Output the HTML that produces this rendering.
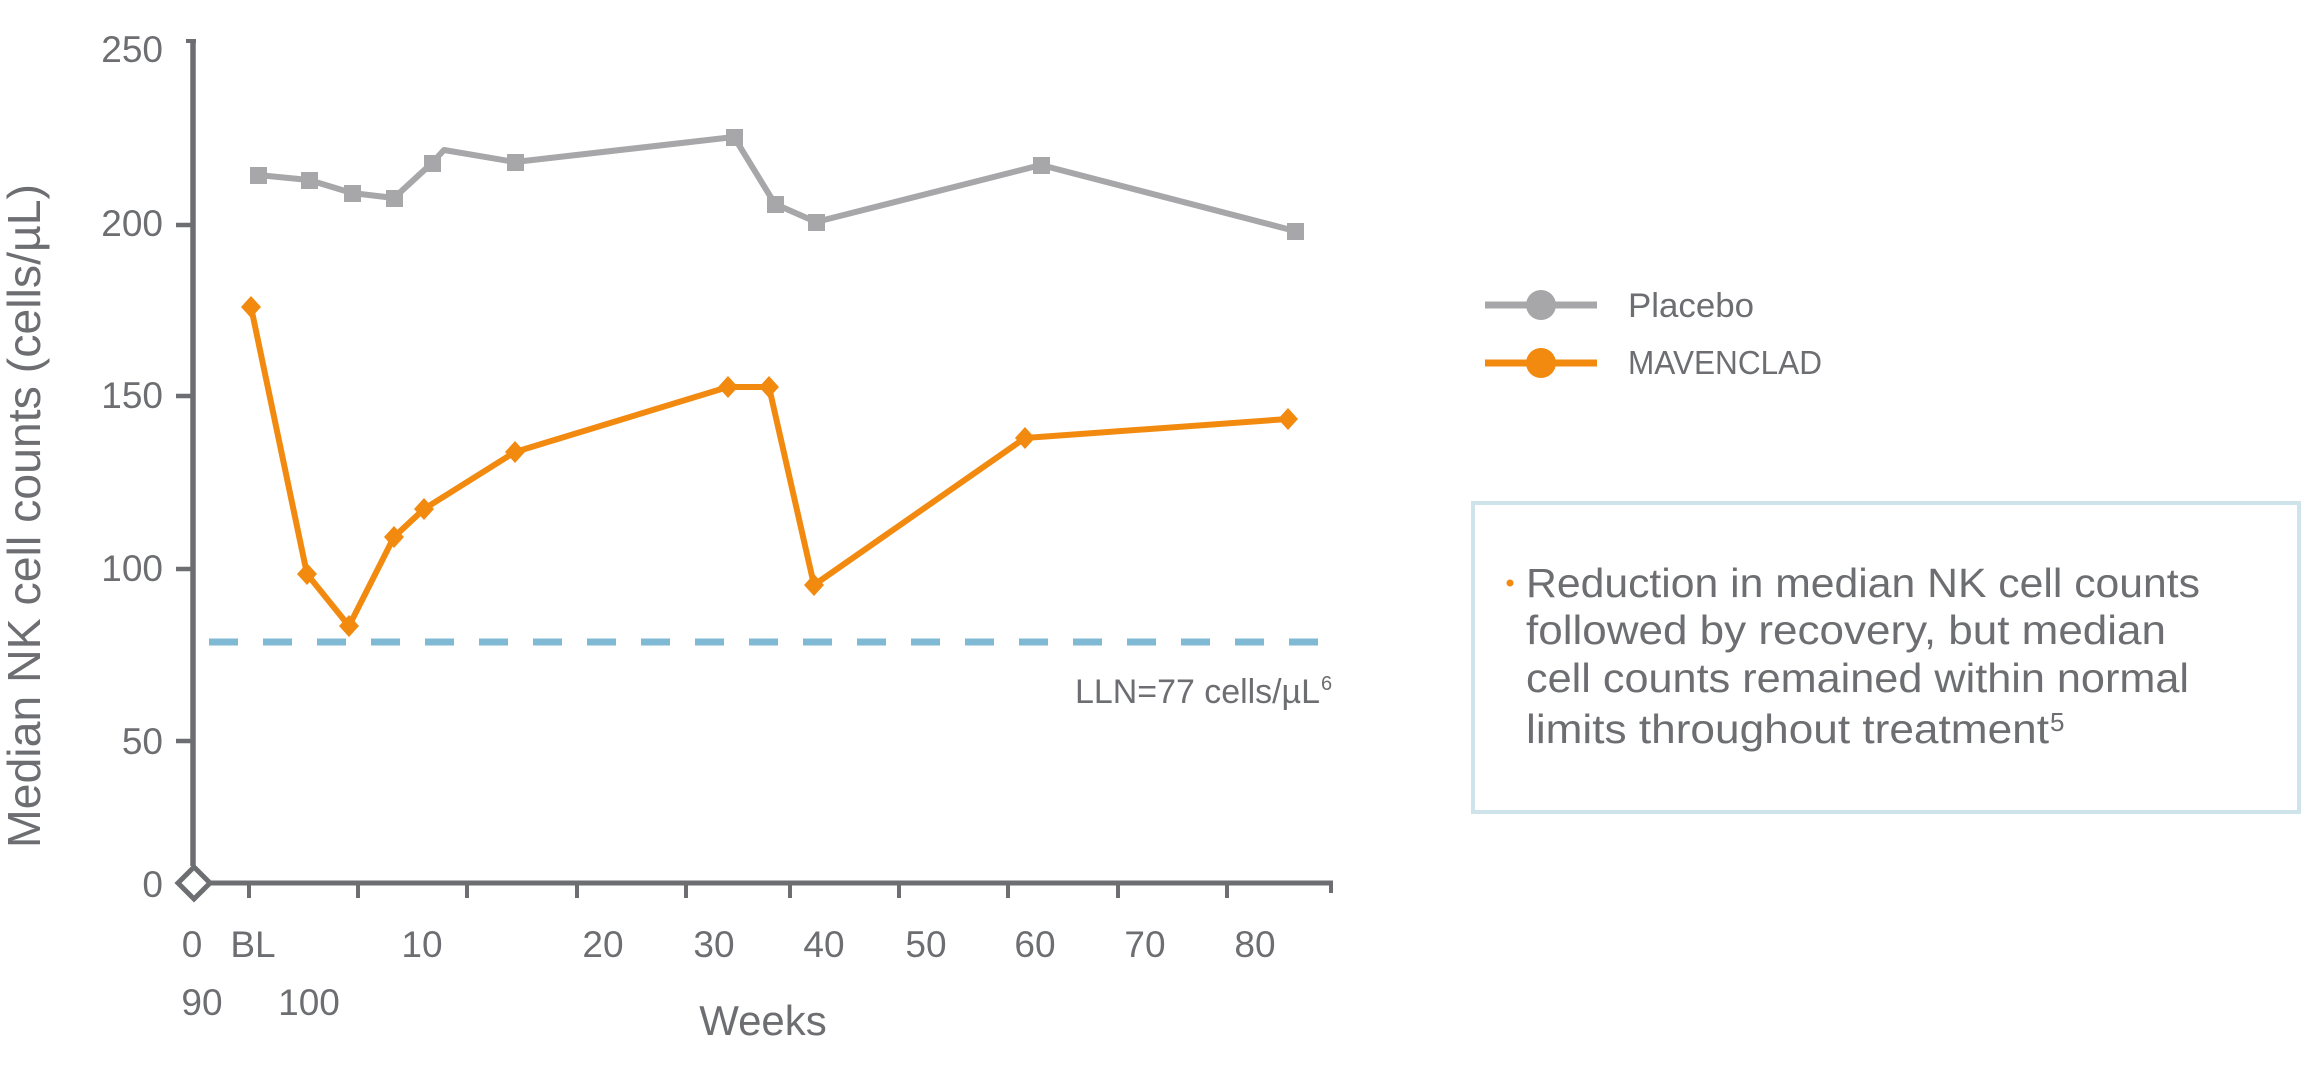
<!DOCTYPE html>
<html><head><meta charset="utf-8"><style>
html,body{margin:0;padding:0;background:#fff;}
svg{display:block;}
text{font-family:"Liberation Sans",sans-serif;fill:#6d6e71;}
</style></head><body>
<svg width="2304" height="1065" viewBox="0 0 2304 1065" xmlns="http://www.w3.org/2000/svg">
<!-- Y axis title -->
<text transform="translate(40,516) rotate(-90)" text-anchor="middle" font-size="46" textLength="664" lengthAdjust="spacingAndGlyphs">Median NK cell counts (cells/µL)</text>

<!-- Y tick labels -->
<g font-size="37" text-anchor="end">
<text x="163" y="62">250</text>
<text x="163" y="236">200</text>
<text x="163" y="408">150</text>
<text x="163" y="581">100</text>
<text x="163" y="754">50</text>
<text x="163" y="897">0</text>
</g>

<!-- axes -->
<g stroke="#6d6e71" fill="none" stroke-linecap="butt">
<line x1="193" y1="39" x2="193" y2="866" stroke-width="5.5"/>
<line x1="186" y1="41" x2="196" y2="41" stroke-width="4"/>
<line x1="176" y1="225" x2="193" y2="225" stroke-width="4.5"/>
<line x1="176" y1="396" x2="193" y2="396" stroke-width="4.5"/>
<line x1="176" y1="569" x2="193" y2="569" stroke-width="4.5"/>
<line x1="176" y1="741" x2="193" y2="741" stroke-width="4.5"/>
<line x1="211" y1="883" x2="1333" y2="883" stroke-width="5"/>
<line x1="1331" y1="881" x2="1331" y2="893" stroke-width="4"/>
<polygon points="194,867 210,883 194,899 178,883" stroke-width="5" fill="#fff"/>
<g stroke-width="4">
<line x1="249" y1="883" x2="249" y2="898"/>
<line x1="358" y1="883" x2="358" y2="898"/>
<line x1="467" y1="883" x2="467" y2="898"/>
<line x1="577" y1="883" x2="577" y2="898"/>
<line x1="686" y1="883" x2="686" y2="898"/>
<line x1="790" y1="883" x2="790" y2="898"/>
<line x1="899" y1="883" x2="899" y2="898"/>
<line x1="1008" y1="883" x2="1008" y2="898"/>
<line x1="1118" y1="883" x2="1118" y2="898"/>
<line x1="1227" y1="883" x2="1227" y2="898"/>
</g>
</g>

<!-- X labels -->
<g font-size="37" text-anchor="middle">
<text x="192" y="957">0</text>
<text x="253" y="957">BL</text>
<text x="422" y="957">10</text>
<text x="603" y="957">20</text>
<text x="714" y="957">30</text>
<text x="824" y="957">40</text>
<text x="926" y="957">50</text>
<text x="1035" y="957">60</text>
<text x="1145" y="957">70</text>
<text x="1255" y="957">80</text>
<text x="202" y="1015">90</text>
<text x="309" y="1015">100</text>
</g>
<text x="763" y="1035" font-size="42" text-anchor="middle">Weeks</text>

<!-- LLN dashed line -->
<line x1="209" y1="642" x2="1337" y2="642" stroke="#7fb9d3" stroke-width="7" stroke-dasharray="29 25"/>
<text x="1075" y="703" font-size="34" textLength="245" lengthAdjust="spacingAndGlyphs">LLN=77 cells/µL</text>
<text x="1321" y="690" font-size="20">6</text>

<!-- Placebo series -->
<polyline fill="none" stroke="#a7a7a9" stroke-width="6" stroke-linejoin="round"
 points="258,175 309,180 352,193 394,198 432,163 444,150 515,162 734,137 775,204 816,222 1041,165 1295,231"/>
<g fill="#a7a7a9">
<rect x="250" y="167" width="17" height="17"/>
<rect x="301" y="172" width="17" height="17"/>
<rect x="344" y="185" width="17" height="17"/>
<rect x="386" y="190" width="17" height="17"/>
<rect x="424" y="155" width="17" height="17"/>
<rect x="507" y="154" width="17" height="17"/>
<rect x="726" y="129" width="17" height="17"/>
<rect x="767" y="196" width="17" height="17"/>
<rect x="808" y="214" width="17" height="17"/>
<rect x="1033" y="157" width="17" height="17"/>
<rect x="1287" y="223" width="17" height="17"/>
</g>

<!-- MAVENCLAD series -->
<polyline fill="none" stroke="#f28a10" stroke-width="6" stroke-linejoin="round"
 points="251,307 307,574 349,626 394,537 424,509 515,452 728,387 769,387 814,585 1025,438 1288,419"/>
<g fill="#f28a10">
<polygon points="251,296 261,307 251,318 241,307"/>
<polygon points="307,563 317,574 307,585 297,574"/>
<polygon points="349,615 359,626 349,637 339,626"/>
<polygon points="394,526 404,537 394,548 384,537"/>
<polygon points="424,498 434,509 424,520 414,509"/>
<polygon points="515,441 525,452 515,463 505,452"/>
<polygon points="728,376 738,387 728,398 718,387"/>
<polygon points="769,376 779,387 769,398 759,387"/>
<polygon points="814,574 824,585 814,596 804,585"/>
<polygon points="1025,427 1035,438 1025,449 1015,438"/>
<polygon points="1288,408 1298,419 1288,430 1278,419"/>
</g>

<!-- Legend -->
<line x1="1485" y1="305" x2="1597" y2="305" stroke="#a7a7a9" stroke-width="7"/>
<circle cx="1541" cy="305" r="15" fill="#a7a7a9"/>
<text x="1628" y="317" font-size="34" textLength="126" lengthAdjust="spacingAndGlyphs">Placebo</text>
<line x1="1485" y1="363" x2="1597" y2="363" stroke="#f28a10" stroke-width="7"/>
<circle cx="1541" cy="363" r="15" fill="#f28a10"/>
<text x="1628" y="374" font-size="33" textLength="194" lengthAdjust="spacingAndGlyphs">MAVENCLAD</text>

<!-- Text box -->
<rect x="1473" y="503" width="826" height="309" fill="#fff" stroke="#cfe3ea" stroke-width="4"/>
<circle cx="1510" cy="583" r="3.5" fill="#f28a10"/>
<g font-size="41">
<text x="1526" y="597" textLength="674" lengthAdjust="spacingAndGlyphs">Reduction in median NK cell counts</text>
<text x="1526" y="644" textLength="640" lengthAdjust="spacingAndGlyphs">followed by recovery, but median</text>
<text x="1526" y="692" textLength="663" lengthAdjust="spacingAndGlyphs">cell counts remained within normal</text>
<text x="1526" y="743" textLength="523" lengthAdjust="spacingAndGlyphs">limits throughout treatment</text>
</g>
<text x="2050" y="731" font-size="26">5</text>
</svg>
</body></html>
